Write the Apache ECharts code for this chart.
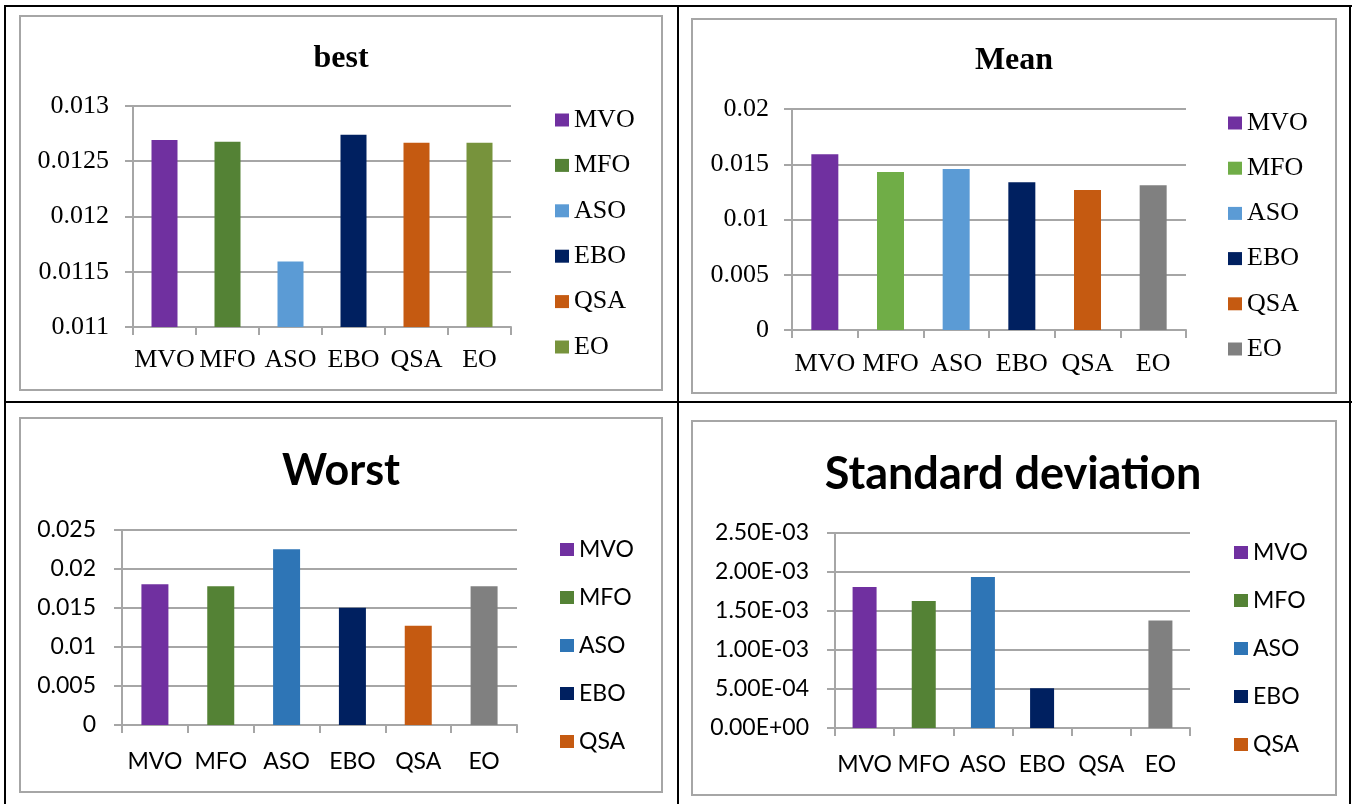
<!DOCTYPE html>
<html>
<head>
<meta charset="utf-8">
<script src="https://cdn.jsdelivr.net/npm/echarts@6/dist/echarts.min.js"></script>
<style>
  html, body { margin: 0; padding: 0; background: #ffffff; }
  #page { position: relative; width: 1359px; height: 804px; overflow: hidden; background: #fff; }
  .chart { position: absolute; }
  .line { position: absolute; background: #000; }
  .frame { position: absolute; border: 2px solid #a6a6a6; box-sizing: border-box; }
</style>
</head>
<body>
<div id="page">
  <div class="frame" style="left:19px;top:15px;width:644px;height:376px;"></div>
  <div class="frame" style="left:691px;top:18px;width:646px;height:376px;"></div>
  <div class="frame" style="left:19px;top:417px;width:644px;height:376px;"></div>
  <div class="frame" style="left:691px;top:420px;width:646px;height:376px;"></div>

  <div id="c1" class="chart" style="left:0;top:0;width:680px;height:402px;"></div>
  <div id="c2" class="chart" style="left:680px;top:0;width:679px;height:402px;"></div>
  <div id="c3" class="chart" style="left:0;top:402px;width:680px;height:402px;"></div>
  <div id="c4" class="chart" style="left:680px;top:402px;width:679px;height:402px;"></div>

  <div class="line" style="left:4px;top:5px;width:1348px;height:2px;"></div>
  <div class="line" style="left:4px;top:5px;width:2px;height:799px;"></div>
  <div class="line" style="left:1349px;top:5px;width:2px;height:799px;"></div>
  <div class="line" style="left:677px;top:5px;width:2px;height:799px;"></div>
  <div class="line" style="left:4px;top:401px;width:1348px;height:2px;"></div>
</div>
<script>
// ---------------- DATA ----------------
const categories = ['MVO', 'MFO', 'ASO', 'EBO', 'QSA', 'EO'];

const bestValues  = [0.012693, 0.012676, 0.011592, 0.012740, 0.012667, 0.012667];
const meanValues  = [0.01591, 0.01429, 0.01456, 0.01338, 0.01266, 0.01311];
const worstValues = [0.01805, 0.01779, 0.02253, 0.01502, 0.01271, 0.01779];
const stdValues   = [0.001807, 0.001627, 0.001935, 0.000509, 0, 0.001378];

const bestTicks  = ['0.011', '0.0115', '0.012', '0.0125', '0.013'];
const meanTicks  = ['0', '0.005', '0.01', '0.015', '0.02'];
const worstTicks = ['0', '0.005', '0.01', '0.015', '0.02', '0.025'];
const stdTicks   = ['0.00E+00', '5.00E-04', '1.00E-03', '1.50E-03', '2.00E-03', '2.50E-03'];

const bestColors  = ['#7030A0', '#548235', '#5B9BD5', '#002060', '#C55A11', '#77933C'];
const meanColors  = ['#7030A0', '#70AD47', '#5B9BD5', '#002060', '#C55A11', '#808080'];
const worstColors = ['#7030A0', '#548235', '#2E75B6', '#002060', '#C55A11', '#808080'];
const stdColors   = ['#7030A0', '#548235', '#2E75B6', '#002060', '#C55A11', '#808080'];

const worstLegend = ['MVO', 'MFO', 'ASO', 'EBO', 'QSA'];
const stdLegend   = ['MVO', 'MFO', 'ASO', 'EBO', 'QSA'];

// ---------------- BUILD ----------------
function build(cfg) {
  const series = categories.map((c, i) => ({
    name: c,
    type: 'bar',
    stack: 'all',
    barWidth: cfg.barWidth,
    data: categories.map((_, j) => (j === i ? cfg.values[i] : '-')),
    itemStyle: { color: cfg.colors[i] }
  }));
  const grayLine = { color: '#a6a6a6', width: 2 };
  return {
    animation: false,
    title: {
      text: cfg.title,
      left: cfg.titleX,
      top: cfg.titleTop,
      padding: 0,
      textAlign: 'center',
      textStyle: {
        fontFamily: cfg.titleFont,
        fontWeight: 'bold',
        fontSize: cfg.titleSize,
        lineHeight: cfg.titleSize,
        color: '#000'
      }
    },
    legend: {
      data: cfg.legend,
      orient: 'vertical',
      left: cfg.legendLeft,
      top: cfg.legendTop,
      icon: 'rect',
      itemWidth: 14,
      itemHeight: 13,
      itemGap: cfg.legendGap,
      padding: 0,
      selectedMode: false,
      textStyle: {
        fontFamily: cfg.font,
        fontSize: cfg.fontSize,
        lineHeight: cfg.fontSize,
        color: '#000'
      }
    },
    grid: cfg.grid,
    xAxis: {
      type: 'category',
      data: categories,
      axisLine: { lineStyle: grayLine },
      axisTick: { show: true, length: 8, lineStyle: grayLine },
      axisLabel: {
        interval: 0,
        color: '#000',
        fontFamily: cfg.font,
        fontSize: cfg.fontSize,
        lineHeight: cfg.fontSize,
        margin: cfg.xLabelMargin
      }
    },
    yAxis: {
      type: 'value',
      min: cfg.min,
      max: cfg.max,
      interval: cfg.interval,
      axisLine: { show: true, lineStyle: grayLine },
      axisTick: { show: true, length: 8, lineStyle: grayLine },
      splitLine: { show: true, lineStyle: grayLine },
      axisLabel: {
        color: '#000',
        fontFamily: cfg.font,
        fontSize: cfg.fontSize,
        margin: cfg.yLabelMargin,
        formatter: v => cfg.ticks[Math.round((v - cfg.min) / cfg.interval)] || ''
      }
    },
    series: series
  };
}

const serif = '"Liberation Serif", "Times New Roman", serif';
const sans = 'Lato, "Liberation Sans", sans-serif';

const panels = [
  {
    id: 'c1', title: 'best', titleFont: serif, titleSize: 32, titleX: 341, titleTop: 43,
    font: serif, fontSize: 26, values: bestValues, colors: bestColors, legend: categories,
    ticks: bestTicks, min: 0.011, max: 0.013, interval: 0.0005,
    grid: { left: 133, top: 106, width: 378, height: 221 },
    barWidth: 26, legendLeft: 555, legendTop: 107, legendGap: 19.4,
    xLabelMargin: 20, yLabelMargin: 24
  },
  {
    id: 'c2', title: 'Mean', titleFont: serif, titleSize: 32, titleX: 334, titleTop: 45,
    font: serif, fontSize: 26, values: meanValues, colors: meanColors, legend: categories,
    ticks: meanTicks, min: 0, max: 0.02, interval: 0.005,
    grid: { left: 112, top: 109, width: 394, height: 221 },
    barWidth: 27, legendLeft: 548, legendTop: 110, legendGap: 19.2,
    xLabelMargin: 21, yLabelMargin: 23
  },
  {
    id: 'c3', title: 'Worst', titleFont: sans, titleSize: 43, titleX: 341, titleTop: 48,
    font: sans, fontSize: 23, values: worstValues, colors: worstColors, legend: worstLegend,
    ticks: worstTicks, min: 0, max: 0.025, interval: 0.005,
    grid: { left: 122, top: 128, width: 395, height: 195 },
    barWidth: 27, legendLeft: 560, legendTop: 136, legendGap: 25,
    xLabelMargin: 25, yLabelMargin: 26
  },
  {
    id: 'c4', title: 'Standard deviation', titleFont: sans, titleSize: 45, titleX: 333, titleTop: 50,
    font: sans, fontSize: 23, values: stdValues, colors: stdColors, legend: stdLegend,
    ticks: stdTicks, min: 0, max: 0.0025, interval: 0.0005,
    grid: { left: 155, top: 131, width: 355, height: 195 },
    barWidth: 24, legendLeft: 554, legendTop: 139, legendGap: 25,
    xLabelMargin: 25, yLabelMargin: 26
  }
];

panels.forEach(p => {
  const chart = echarts.init(document.getElementById(p.id), null, { renderer: 'canvas' });
  chart.setOption(build(p));
});
</script>
</body>
</html>
